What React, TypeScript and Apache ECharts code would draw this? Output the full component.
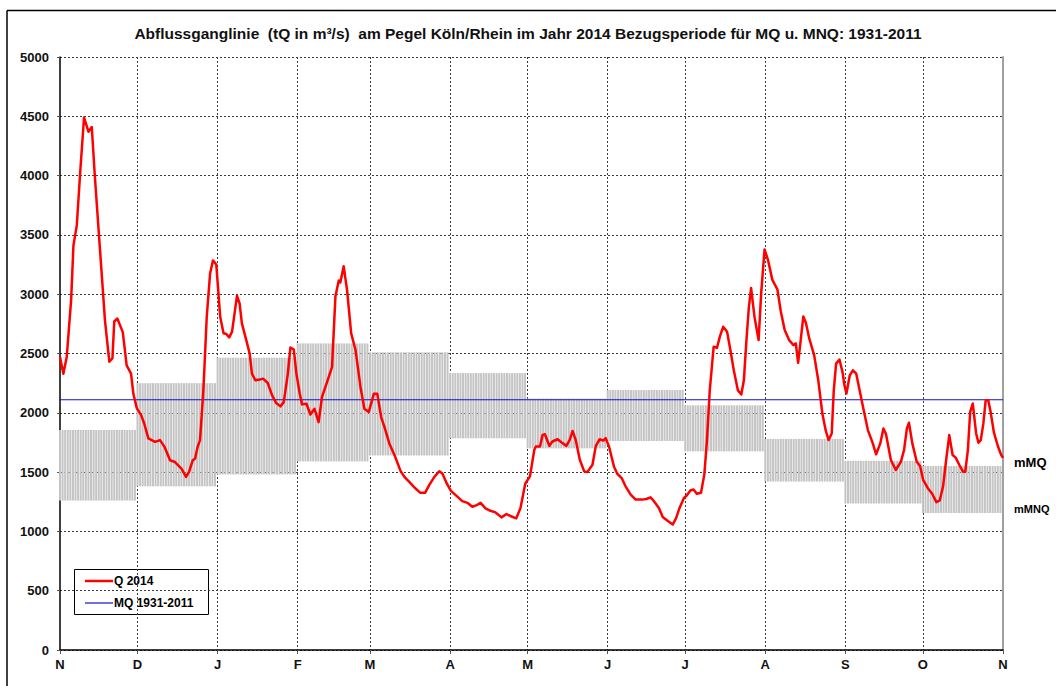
import React, { useEffect, useRef } from "react";
import * as echarts from "echarts";

// ---- data ----
const monthLetters = ["N", "D", "J", "F", "M", "A", "M", "J", "J", "A", "S", "O", "N"];
const monthDays = [30, 31, 31, 28, 31, 30, 31, 30, 31, 31, 30, 31];
// monthly mean discharge (upper edge of grey band) and mean low water (lower edge)
const mMQ = [1855, 2250, 2465, 2585, 2510, 2335, 2120, 2192, 2063, 1780, 1595, 1552];
const mMNQ = [1260, 1380, 1480, 1590, 1640, 1785, 1700, 1762, 1675, 1420, 1235, 1155];
const MQ = 2110;
const yMin = 0;
const yMax = 5000;
const yInterval = 500;
const legendNames = ["Q 2014", "MQ 1931-2011"];

// day of hydrological year (0 = 1 Nov 2013), discharge m³/s
const q2014: [number, number][] = [
  [0, 2470], [1.3, 2330], [2.6, 2470], [4.3, 2950], [5.2, 3410], [6.5, 3580], [7.7, 3990],
  [9.3, 4490], [11, 4370], [12.3, 4410], [13.5, 3990], [15.5, 3370], [17.4, 2780], [19.1, 2430],
  [20.3, 2460], [21, 2770], [22.2, 2795], [24.3, 2680], [25.8, 2400], [27.5, 2330], [28.4, 2160],
  [29.7, 2040], [31.4, 1980], [32.6, 1910], [34.2, 1785], [36.8, 1755], [38.7, 1770], [40.4, 1715],
  [42.6, 1600], [44.5, 1585], [47, 1530], [48.8, 1460], [50, 1505], [51.4, 1600], [52.3, 1615],
  [53.3, 1715], [54.2, 1770], [55.5, 2190], [56.8, 2810], [58.1, 3175], [59.2, 3285], [60.5, 3250],
  [62, 2810], [63.3, 2670], [64.4, 2665], [65.5, 2636], [66.6, 2684], [68.5, 2986], [69.5, 2924],
  [70.4, 2754], [72.1, 2613], [73.4, 2500], [74.3, 2330], [75.6, 2274], [77.3, 2280], [78.6, 2288],
  [80.4, 2251], [82.1, 2147], [83.7, 2082], [85.3, 2054], [86.6, 2090], [88.1, 2316], [89.2, 2551],
  [90.5, 2534], [91.5, 2330], [92.8, 2161], [93.7, 2071], [95.4, 2076], [96.9, 1986], [98.5, 2034],
  [100.1, 1921], [101.4, 2133], [103.4, 2260], [105.3, 2387], [106.6, 2980], [107.9, 3116],
  [108.5, 3099], [109.8, 3235], [111.1, 3037], [112.7, 2670], [114.4, 2528], [116.3, 2218],
  [117.8, 2034], [119.5, 2006], [121.5, 2161], [122.8, 2160], [124.3, 1964], [125.6, 1880],
  [127.5, 1740], [129.5, 1642], [131.8, 1510], [133.3, 1460], [135.2, 1418], [137.2, 1370],
  [139.5, 1325], [141.3, 1325], [142.9, 1390], [144.9, 1460], [146.8, 1507], [148, 1488],
  [149.7, 1404], [151.3, 1342], [153.6, 1297], [155.7, 1255], [157.7, 1241], [159.6, 1208],
  [161.3, 1222], [162.8, 1241], [164.7, 1194], [166.6, 1174], [168.6, 1160], [170.9, 1118],
  [172.8, 1146], [174.3, 1130], [176.6, 1110], [178.2, 1194], [180.1, 1404], [181.9, 1464],
  [183.6, 1688], [184.2, 1716], [185.8, 1716], [186.8, 1814], [187.7, 1819], [189.4, 1721],
  [190.6, 1758], [192.6, 1777], [194.2, 1749], [196, 1721], [197.3, 1772], [198.4, 1847],
  [199.6, 1772], [201.2, 1604], [202.9, 1506], [204.1, 1500], [206.1, 1562], [207.4, 1721],
  [208.9, 1777], [210.3, 1766], [211.2, 1786], [212.5, 1716], [214.4, 1548], [215.7, 1486],
  [217.4, 1450], [218.9, 1380], [220.9, 1310], [222.8, 1268], [225.4, 1268], [226.9, 1273],
  [228.6, 1287], [229.9, 1254], [231.8, 1198], [233.3, 1122], [235.4, 1086], [237.2, 1058],
  [238.5, 1114], [239.8, 1198], [241.5, 1282], [242.5, 1300], [244, 1345], [245.2, 1354],
  [246.5, 1317], [248.1, 1326], [249.4, 1481], [250.4, 1764], [251.5, 2189], [253, 2557],
  [254.3, 2548], [255.4, 2642], [256.7, 2726], [258.2, 2684], [259.5, 2528], [260.8, 2358],
  [262.4, 2189], [263.7, 2155], [264.7, 2274], [265.7, 2613], [266.6, 2882], [267.5, 3052],
  [268.8, 2811], [270.4, 2613], [271.4, 3009], [272.7, 3377], [274, 3292], [275.7, 3123],
  [277.7, 3038], [279, 2854], [280.5, 2698], [282.2, 2613], [283.9, 2571], [284.8, 2585],
  [285.7, 2421], [286.7, 2613], [287.7, 2811], [288.7, 2760], [290, 2627], [291.9, 2486],
  [293.5, 2274], [295.1, 1991], [296.4, 1849], [297.5, 1770], [298.7, 1826], [299.5, 2189],
  [300.4, 2415], [301.7, 2449], [303, 2330], [303.5, 2246], [304.4, 2162], [305.7, 2316],
  [306.9, 2358], [308.2, 2330], [309.5, 2190], [310.8, 2050], [312.7, 1854], [314.6, 1742],
  [315.9, 1650], [317.5, 1742], [318.7, 1868], [319.7, 1821], [321.6, 1602], [323.5, 1518],
  [325.5, 1588], [326.7, 1686], [327.8, 1868], [328.6, 1916], [329.9, 1742], [331.6, 1588],
  [332.9, 1552], [334.1, 1434], [335.9, 1364], [337.6, 1317], [339.2, 1247], [340.5, 1261],
  [341.8, 1378], [343, 1602], [344.2, 1812], [345.5, 1644], [346.7, 1622], [348.1, 1560],
  [349.5, 1504], [350.4, 1504], [351.4, 1686], [352.3, 2008], [353.3, 2078], [354.6, 1826],
  [355.5, 1748], [356.4, 1770], [357.4, 1910], [358.3, 2106], [359.3, 2106], [360.2, 2008],
  [361.5, 1832], [363, 1720], [364.3, 1644], [365, 1620],
];

const FONT = "'Liberation Sans', Arial, Helvetica, sans-serif";
const RED = "#ff0000";
const BLUE = "#1010c8";

export default function App() {
  const ref = useRef<HTMLDivElement>(null);

  useEffect(() => {
    if (!ref.current) return;
    const chart = echarts.init(ref.current, undefined, { renderer: "svg" });

    // month start indices
    const monthStarts: number[] = [0];
    monthDays.forEach((d, i) => monthStarts.push(monthStarts[i] + d));
    const totalDays = monthStarts[monthStarts.length - 1];
    const labelAt: Record<number, string> = {};
    monthStarts.forEach((s, i) => (labelAt[s] = monthLetters[i]));

    const categories: string[] = [];
    for (let i = 0; i <= totalDays; i++) categories.push(String(i));

    const bandBase: (number | null)[] = [];
    const bandHeight: (number | null)[] = [];
    monthDays.forEach((d, m) => {
      for (let k = 0; k < d; k++) {
        bandBase.push(mMNQ[m]);
        bandHeight.push(mMQ[m] - mMNQ[m]);
      }
    });

    const isMonthStart = (idx: number) => labelAt[idx] !== undefined;
    const gridDash = { color: "#3a3a3a", type: [2, 2] as number[], width: 1 };

    chart.setOption({
      animation: false,
      backgroundColor: "#ffffff",
      title: {
        text: "Abflussganglinie  (tQ in m³/s)  am Pegel Köln/Rhein im Jahr 2014 Bezugsperiode für MQ u. MNQ: 1931-2011",
        left: "center",
        top: 20,
        textStyle: { fontFamily: FONT, fontSize: 15.5, fontWeight: "bold", color: "#111" },
      },
      grid: { left: 60, right: 53, top: 57, bottom: 36 },
      xAxis: [
        {
          type: "category",
          data: categories,
          boundaryGap: false,
          axisLine: { show: true, lineStyle: { color: "#000", width: 1.5 } },
          axisTick: { show: true, interval: (idx: number) => isMonthStart(idx), length: 4, lineStyle: { color: "#555" } },
          axisLabel: {
            interval: (idx: number) => isMonthStart(idx),
            formatter: (_v: string, idx: number) => labelAt[idx] ?? "",
            fontFamily: FONT,
            fontSize: 13,
            fontWeight: "bold",
            color: "#111",
            margin: 8,
          },
          splitLine: { show: true, interval: (idx: number) => isMonthStart(idx) && idx > 0, lineStyle: gridDash },
        },
        {
          type: "value",
          min: 0,
          max: totalDays,
          show: false,
          position: "bottom",
        },
      ],
      yAxis: [
        {
          type: "value",
          min: yMin,
          max: yMax,
          interval: yInterval,
          axisLine: { show: true, lineStyle: { color: "#000", width: 1.5 } },
          axisTick: { show: true, length: 3, lineStyle: { color: "#555" } },
          axisLabel: {
            formatter: (v: number) => String(v),
            fontFamily: FONT,
            fontSize: 13,
            fontWeight: "bold",
            color: "#111",
            margin: 11,
          },
          splitLine: { show: true, lineStyle: gridDash },
        },
        {
          type: "value",
          min: yMin,
          max: yMax,
          interval: yInterval,
          position: "right",
          axisLine: { show: true, lineStyle: { color: "#a0a0a0", width: 2 } },
          axisTick: { show: false },
          axisLabel: { show: false },
          splitLine: { show: false },
        },
      ],
      graphic: [
        { type: "line", shape: { x1: 7, y1: 10.5, x2: 1056, y2: 10.5 }, style: { stroke: "#000", lineWidth: 1.5 }, silent: true },
        { type: "line", shape: { x1: 7, y1: 10.5, x2: 7, y2: 686 }, style: { stroke: "#000", lineWidth: 1.5 }, silent: true },
        {
          type: "text",
          left: 1014,
          top: 456,
          style: { text: "mMQ", font: `bold 13px ${FONT}`, fill: "#000" },
        },
        {
          type: "text",
          left: 1014,
          top: 503,
          style: { text: "mMNQ", font: `bold 11px ${FONT}`, fill: "#000" },
        },
        // legend box
        {
          type: "group",
          left: 74,
          top: 569,
          z: 100,
          children: [
            {
              type: "rect",
              shape: { x: 0.5, y: 0.5, width: 134, height: 45 },
              style: { fill: "#fff", stroke: "#000", lineWidth: 1 },
            },
            {
              type: "line",
              shape: { x1: 11, y1: 12, x2: 39, y2: 12 },
              style: { stroke: RED, lineWidth: 2.5 },
            },
            {
              type: "text",
              x: 40,
              y: 12,
              style: { text: legendNames[0], font: `bold 12px ${FONT}`, fill: "#000", verticalAlign: "middle" },
            },
            {
              type: "line",
              shape: { x1: 11, y1: 34, x2: 39, y2: 34 },
              style: { stroke: BLUE, lineWidth: 1.2 },
            },
            {
              type: "text",
              x: 40,
              y: 34,
              style: { text: legendNames[1], font: `bold 12px ${FONT}`, fill: "#000", verticalAlign: "middle" },
            },
          ],
        },
      ],
      series: [
        {
          name: "mMNQ",
          type: "bar",
          xAxisIndex: 0,
          yAxisIndex: 0,
          stack: "band",
          data: bandBase,
          barWidth: 2,
          itemStyle: { color: "rgba(0,0,0,0)" },
          silent: true,
          z: 2,
        },
        {
          name: "mMQ",
          type: "bar",
          xAxisIndex: 0,
          yAxisIndex: 0,
          stack: "band",
          data: bandHeight,
          barWidth: 2,
          itemStyle: { color: "#c4c4c4" },
          silent: true,
          z: 2,
        },
        {
          name: legendNames[1],
          type: "line",
          xAxisIndex: 1,
          yAxisIndex: 0,
          data: [[0, MQ], [totalDays, MQ]],
          symbol: "none",
          lineStyle: { color: BLUE, width: 1.2 },
          itemStyle: { color: BLUE },
          z: 3,
        },
        {
          name: legendNames[0],
          type: "line",
          xAxisIndex: 1,
          yAxisIndex: 0,
          data: q2014,
          symbol: "none",
          lineStyle: { color: RED, width: 2.5, join: "round" },
          itemStyle: { color: RED },
          z: 4,
        },
      ],
    });

    return () => chart.dispose();
  }, []);

  return (
    <div
      ref={ref}
      style={{ position: "fixed", left: 0, top: 0, width: 1056, height: 686, background: "#fff" }}
    />
  );
}
